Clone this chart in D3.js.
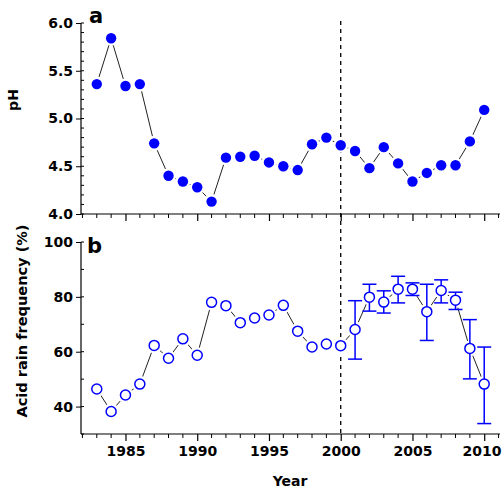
<!DOCTYPE html>
<html><head><meta charset="utf-8">
<script src="https://cdn.jsdelivr.net/npm/d3@7"></script>
<style>body{margin:0;background:#fff}svg{display:block}text{font-family:"DejaVu Sans",sans-serif;font-weight:bold}</style>
</head><body><svg id="c" width="502" height="490"></svg>
<script>
const years = d3.range(1983, 2011);
const phValues = [5.36,5.84,5.34,5.36,4.74,4.40,4.34,4.28,4.13,4.59,4.60,4.61,4.54,4.50,4.46,4.73,4.80,4.72,4.66,4.48,4.70,4.53,4.34,4.43,4.51,4.51,4.76,5.09];
const freqValues = [46.4,38.2,44.2,48.2,62.3,57.6,64.7,58.7,78.0,76.8,70.6,72.3,73.4,76.9,67.5,61.7,62.8,62.2,68.1,79.9,78.1,82.8,82.8,74.6,82.3,78.8,61.2,48.2];
const errYears = [2001,2002,2003,2004,2005,2006,2007,2008,2009,2010];
const errHigh = [78.6,84.6,82.2,87.5,85.1,84.6,86.2,81.7,71.7,61.7];
const errLow = [57.3,74.8,74.1,77.8,80.5,64.1,77.8,75.4,50.1,33.8];
const phTicks = [4.0,4.5,5.0,5.5,6.0];
const freqTicks = [40,60,80,100];
const yearTicks = [1985,1990,1995,2000,2005,2010];
const splitYear = 2000;

const svg = d3.select("#c");
const blue = "#0000ff";
const x = d3.scaleLinear().domain([1981.9, 2011.1]).range([81, 500]);
const yA = d3.scaleLinear().domain([4.0, 6.0]).range([214, 23]);
const yB = d3.scaleLinear().domain([30, 100]).range([434, 242]);

function yAxis(scale, ticks, minor, fmt, xpos) {
  const g = svg.append("g").attr("transform", `translate(${xpos},0)`);
  g.append("line").attr("x1",0).attr("x2",0).attr("y1",scale.range()[0]).attr("y2",scale.range()[1]).attr("stroke","#000").attr("stroke-width",1.2);
  g.selectAll(".mi").data(minor).join("line").attr("x1",0).attr("x2",3).attr("y1",d=>scale(d)).attr("y2",d=>scale(d)).attr("stroke","#000");
  const maj = d3.axisLeft(scale).tickValues(ticks).tickFormat(fmt).tickSize(5).tickPadding(3);
  const ga = g.append("g").call(maj);
  ga.select(".domain").remove();
  ga.selectAll("text").attr("font-size",14).attr("font-family","DejaVu Sans").attr("font-weight","bold").attr("fill","#000");
  ga.selectAll("line").attr("stroke","#000");
}
function xAxis(ypos, labels) {
  const g = svg.append("g").attr("transform", `translate(0,${ypos})`);
  g.append("line").attr("x1",x.range()[0]).attr("x2",x.range()[1]).attr("y1",0).attr("y2",0).attr("stroke","#000").attr("stroke-width",1.2);
  const minorYears = d3.range(1982, 2012).filter(y => yearTicks.indexOf(y) < 0);
  g.selectAll(".mi").data(minorYears).join("line").attr("x1",d=>x(d)).attr("x2",d=>x(d)).attr("y1",0).attr("y2",4).attr("stroke","#000");
  const ax = d3.axisBottom(x).tickValues(yearTicks).tickFormat(labels ? d3.format("d") : "").tickSize(7).tickPadding(5);
  const ga = g.append("g").call(ax);
  ga.select(".domain").remove();
  ga.selectAll("text").attr("font-size",14).attr("font-family","DejaVu Sans").attr("font-weight","bold").attr("fill","#000");
  ga.selectAll("line").attr("stroke","#000").attr("stroke-width",1.2);
  // keep the last label inside the window
  ga.selectAll("text").filter(d => d === 2010).attr("text-anchor","end").attr("dx", 501 - x(2010));
}

yAxis(yA, phTicks, d3.range(40, 61).map(v=>v/10), d3.format(".1f"), 81);
yAxis(yB, freqTicks, d3.range(30, 101, 10), d3.format("d"), 81);
xAxis(214, false);
xAxis(434, true);

// dashed vertical line
svg.append("line").attr("x1",x(splitYear)).attr("x2",x(splitYear)).attr("y1",21).attr("y2",434)
  .attr("stroke","#000").attr("stroke-width",1.3).attr("stroke-dasharray","4,4");

// panel a
const lineA = d3.line().x((d,i)=>x(years[i])).y(d=>yA(d));
svg.append("path").attr("d", lineA(phValues)).attr("fill","none").attr("stroke","#222").attr("stroke-width",1);
svg.selectAll(".haloA").data(phValues).join("circle").attr("cx",(d,i)=>x(years[i])).attr("cy",d=>yA(d)).attr("r",7.5).attr("fill","#fff");
svg.selectAll(".dotA").data(phValues).join("circle").attr("cx",(d,i)=>x(years[i])).attr("cy",d=>yA(d)).attr("r",5.2).attr("fill",blue);

// panel b
const lineB = d3.line().x((d,i)=>x(years[i])).y(d=>yB(d));
svg.append("path").attr("d", lineB(freqValues)).attr("fill","none").attr("stroke","#222").attr("stroke-width",1);
svg.selectAll(".haloB").data(freqValues).join("circle").attr("cx",(d,i)=>x(years[i])).attr("cy",d=>yB(d)).attr("r",8).attr("fill","#fff");
const eb = svg.append("g").attr("stroke",blue).attr("stroke-width",1.5);
errYears.forEach((yr,i)=>{
  eb.append("line").attr("x1",x(yr)).attr("x2",x(yr)).attr("y1",yB(errLow[i])).attr("y2",yB(errHigh[i]));
  eb.append("line").attr("x1",x(yr)-7).attr("x2",x(yr)+7).attr("y1",yB(errLow[i])).attr("y2",yB(errLow[i]));
  eb.append("line").attr("x1",x(yr)-7).attr("x2",x(yr)+7).attr("y1",yB(errHigh[i])).attr("y2",yB(errHigh[i]));
});
svg.selectAll(".dotB").data(freqValues).join("circle").attr("cx",(d,i)=>x(years[i])).attr("cy",d=>yB(d)).attr("r",5).attr("fill","#fff").attr("stroke",blue).attr("stroke-width",1.5);

// labels
svg.append("text").attr("x",89).attr("y",23).attr("font-size",21).text("a");
svg.append("text").attr("x",87).attr("y",253).attr("font-size",21).text("b");
svg.append("text").attr("transform","translate(18,100) rotate(-90)").attr("text-anchor","middle").attr("font-size",14).text("pH");
svg.append("text").attr("transform","translate(27,321) rotate(-90)").attr("text-anchor","middle").attr("font-size",14)
  .attr("textLength",193).attr("lengthAdjust","spacingAndGlyphs").text("Acid rain frequency (%)");
svg.append("text").attr("x",290).attr("y",486).attr("text-anchor","middle").attr("font-size",14).text("Year");
</script></body></html>
